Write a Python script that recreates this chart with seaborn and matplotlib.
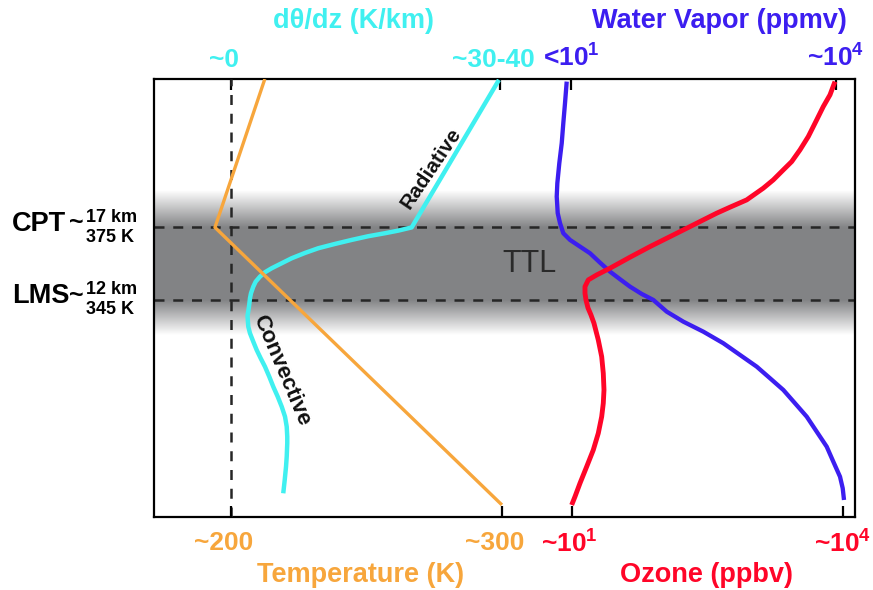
import numpy as np
import matplotlib
matplotlib.use("Agg")
import matplotlib.pyplot as plt
import matplotlib.transforms as mtransforms
from matplotlib.ticker import NullLocator
import seaborn as sns

# ---------------- data ----------------
# vertical coordinate: potential temperature (K)
theta_lim = [255.2, 436.4]
CPT_theta = 375
LMS_theta = 345
band_fade_above = 15.5
band_fade_below = 14.5

# Temperature profile (K)
temp_theta = [260.2, 375.0, 436.4]
temp_K = [300.0, 194.1, 212.5]

# d(theta)/dz profile (K/km)
dtdz_theta = [436.04, 375.0, 373.68, 372.60, 371.36, 369.83, 368.17, 366.39, 364.45, 362.25,
              360.19, 358.12, 356.46, 354.64, 352.57, 350.50, 347.77, 345.70, 342.23, 338.38,
              333.95, 331.22, 327.74, 324.31, 320.87, 317.40, 313.26, 309.12, 304.98, 300.85,
              296.71, 292.57, 288.43, 285.70, 280.16, 276.02, 270.52, 265.01]
dtdz_val = [34.87, 23.51, 21.77, 20.04, 17.86, 15.70, 13.53, 11.36, 9.63, 7.90,
            6.60, 5.30, 4.42, 3.77, 3.21, 2.90, 2.60, 2.47, 2.34, 2.15,
            2.25, 2.47, 2.90, 3.34, 3.86, 4.42, 4.98, 5.50, 6.08, 6.60,
            7.03, 7.25, 7.32, 7.32, 7.25, 7.16, 6.99, 6.80]

# Water vapor (ppmv)
wv_theta = [435.33, 426.39, 418.12, 409.84, 401.57, 393.29, 387.75, 380.88, 376.74, 372.60,
            369.83, 367.06, 364.32, 360.43, 356.71, 353.57, 350.50, 347.48, 345.00, 340.16,
            336.02, 331.88, 327.08, 322.24, 317.40, 312.60, 307.76, 302.25, 296.71, 290.50,
            284.29, 278.09, 271.88, 267.08, 262.24]
wv_ppmv = [8.94, 8.55, 8.18, 7.85, 7.37, 7.00, 6.89, 7.07, 7.51, 8.18,
           9.74, 12.65, 16.41, 21.30, 27.64, 35.87, 46.55, 63.15, 85.45, 121.2,
           186.8, 314.6, 530.0, 818.8, 1266, 1790, 2532, 3435, 4661, 6047,
           7849, 9322, 11100, 11910, 12320]

# Ozone (ppbv)
o3_theta = [435.33, 429.83, 424.99, 419.48, 412.57, 407.07, 402.23, 398.79, 394.66, 391.22,
            386.38, 383.36, 380.88, 378.10, 375.33, 371.19, 367.06, 362.67, 358.12, 355.34,
            353.28, 350.50, 347.77, 345.00, 341.69, 338.79, 335.36, 328.45, 321.54, 314.67,
            307.76, 302.25, 296.71, 289.84, 282.93, 276.02, 269.15, 263.60, 260.17]
o3_ppbv = [8152, 7180, 6051, 5114, 4129, 3342, 2705, 2183, 1692, 1311,
           858.8, 561.3, 399.8, 284.0, 202.5, 121.6, 73.03, 43.86, 26.34, 18.77,
           15.15, 13.93, 13.93, 14.29, 15.04, 16.23, 17.52, 19.55, 21.32, 22.21,
           22.61, 22.21, 21.32, 19.55, 17.21, 14.54, 12.26, 10.79, 9.92]

# axes ranges
T_lim = [171.6, 430.3]
D_lim = [-10.02, 81.2]
WV_lim = [10 ** -3.721, 10 ** 4.215]
O3_lim = [10 ** -3.627, 10 ** 4.133]

# ticks
T_ticks = [200, 300]
T_labels = ["~200", "~300"]
D_ticks = [0, 35]
D_labels = ["~0", "~30-40"]
WV_ticks = [10, 1e4]
WV_labels = [r"<10$^{1}$", r"~10$^{4}$"]
O3_ticks = [10, 1e4]
O3_labels = [r"~10$^{1}$", r"~10$^{4}$"]

# level labels
level_names = ["CPT", "LMS"]
level_theta = [CPT_theta, LMS_theta]
level_km = ["17 km", "12 km"]
level_K = ["375 K", "345 K"]

# ---------------- style ----------------
sns.set_style("white")
plt.rcParams["font.family"] = ["Liberation Sans", "DejaVu Sans"]
plt.rcParams["font.weight"] = "bold"
plt.rcParams["mathtext.fontset"] = "custom"
plt.rcParams["mathtext.rm"] = "Liberation Sans:bold"
plt.rcParams["mathtext.bf"] = "Liberation Sans:bold"
plt.rcParams["mathtext.it"] = "Liberation Sans:bold"

ORANGE = "#F7A63C"
CYAN = "#40F0F0"
BLUE = "#3C1EF0"
RED = "#FF0528"
BAND = (0.51, 0.515, 0.525)
DASH = "#262626"

fig = plt.figure(figsize=(8.73, 5.90), dpi=100)
FW, FH = 873, 590
L, R, T, B = 154, 855, 79, 517
ax = fig.add_axes([L / FW, 1 - B / FH, (R - L) / FW, (B - T) / FH])
ax.set_xlim(0, 1)

# gradient band (TTL)
yy = np.linspace(theta_lim[0], theta_lim[1], 800)
alpha = np.ones_like(yy)
up = yy > CPT_theta
alpha[up] = np.clip(1 - (yy[up] - CPT_theta) / band_fade_above, 0, 1)
dn = yy < LMS_theta
alpha[dn] = np.clip(1 - (LMS_theta - yy[dn]) / band_fade_below, 0, 1)
img = np.zeros((len(yy), 1, 4))
img[..., 0] = BAND[0]
img[..., 1] = BAND[1]
img[..., 2] = BAND[2]
img[..., 3] = alpha[:, None]
ax.imshow(img, extent=[0, 1, theta_lim[0], theta_lim[1]], origin="lower",
          aspect="auto", interpolation="bilinear", zorder=0)
ax.set_ylim(*theta_lim)
ax.set_xlim(0, 1)

for th in level_theta:
    ax.axhline(th, color=DASH, lw=1.8, dashes=(4, 3.5), zorder=2)

ax.set_xticks([])
ax.set_yticks([])
for s in ax.spines.values():
    s.set_visible(True)
    s.set_color("black")
    s.set_linewidth(1.6)


def make_twin(lim, scale="linear"):
    a = ax.twiny()
    a.set_xscale(scale)
    a.set_xlim(*lim)
    for s in a.spines.values():
        s.set_visible(False)
    a.xaxis.set_minor_locator(NullLocator())
    return a


ax_D = make_twin(D_lim)
ax_W = make_twin(WV_lim, "log")
ax_O = make_twin(O3_lim, "log")
ax_T = make_twin(T_lim)

ax_D.axvline(0, color=DASH, lw=1.8, dashes=(4, 3.5), zorder=1)

line_kw = dict(sort=False, estimator=None, solid_joinstyle="round", solid_capstyle="butt")
sns.lineplot(x=dtdz_val, y=dtdz_theta, color=CYAN, lw=3.2, ax=ax_D, **line_kw)
sns.lineplot(x=wv_ppmv, y=wv_theta, color=BLUE, lw=3.1, ax=ax_W, **line_kw)
sns.lineplot(x=o3_ppbv, y=o3_theta, color=RED, lw=3.5, ax=ax_O, **line_kw)
sns.lineplot(x=temp_K, y=temp_theta, color=ORANGE, lw=2.4, ax=ax_T, **line_kw)

for a in (ax_D, ax_W, ax_O, ax_T):
    a.set_ylim(*theta_lim)
    a.set_ylabel("")


def setup_axis(a, ticks, labels, color, title, pos, title_xy, shifts_px):
    a.set_xticks(ticks)
    a.set_xticklabels(labels)
    if pos == "bottom":
        a.xaxis.set_ticks_position("bottom")
        a.xaxis.set_label_position("bottom")
        pad = 10
    else:
        a.xaxis.set_ticks_position("top")
        a.xaxis.set_label_position("top")
        pad = 5
    a.tick_params(axis="x", direction="in", length=8, width=1.6, color="black",
                  labelcolor=color, labelsize=19, pad=pad)
    for lab, sh in zip(a.get_xticklabels(), shifts_px):
        lab.set_fontweight("bold")
        if sh:
            off = mtransforms.ScaledTranslation(sh / 100, 0, fig.dpi_scale_trans)
            lab.set_transform(lab.get_transform() + off)
    a.set_xlabel(title, color=color, fontsize=19.5, fontweight="bold")
    a.xaxis.label.set_verticalalignment("center")
    a.xaxis.set_label_coords(*title_xy)


setup_axis(ax_T, T_ticks, T_labels, ORANGE, "Temperature (K)", "bottom", (0.295, -0.132), [-7, -7])
setup_axis(ax_O, O3_ticks, O3_labels, RED, "Ozone (ppbv)", "bottom", (0.788, -0.132), [-3, 0])
setup_axis(ax_D, D_ticks, D_labels, CYAN, "dθ/dz (K/km)", "top", (0.285, 1.133), [-7, -7])
setup_axis(ax_W, WV_ticks, WV_labels, BLUE, "Water Vapor (ppmv)", "top", (0.806, 1.133), [0, 0])

# annotations
ax_D.text(26.0, 399.6, "Radiative", rotation=56, rotation_mode="anchor",
          ha="center", va="center", fontsize=15, fontweight="bold", color="#111111")
ax_D.text(6.6, 316.0, "Convective", rotation=-67, rotation_mode="anchor",
          ha="center", va="center", fontsize=16, fontweight="bold", color="#111111")
ax.text(0.536, 360, "TTL", ha="center", va="center", fontsize=22,
        fontweight="normal", color="#2a2a2a")

blend = mtransforms.blended_transform_factory(ax.transAxes, ax.transData)
for name, th, top, bot in zip(level_names, level_theta, level_km, level_K):
    ax.annotate(name, xy=(-0.2026, th), xycoords=blend, xytext=(0, 2.5),
                textcoords="offset points", ha="left", va="center",
                fontsize=19.5, fontweight="bold", color="black", annotation_clip=False)
    ax.annotate("~", xy=(-0.1003, th), xycoords=blend, xytext=(0, 3),
                textcoords="offset points", ha="right", va="center",
                fontsize=18, fontweight="bold", color="black", annotation_clip=False)
    ax.annotate(top, xy=(-0.0970, th), xycoords=blend, xytext=(0, 7.5),
                textcoords="offset points", ha="left", va="center",
                fontsize=13, fontweight="bold", color="black", annotation_clip=False)
    ax.annotate(bot, xy=(-0.0970, th), xycoords=blend, xytext=(0, -7),
                textcoords="offset points", ha="left", va="center",
                fontsize=13, fontweight="bold", color="black", annotation_clip=False)

fig.savefig("out.png", dpi=100)
